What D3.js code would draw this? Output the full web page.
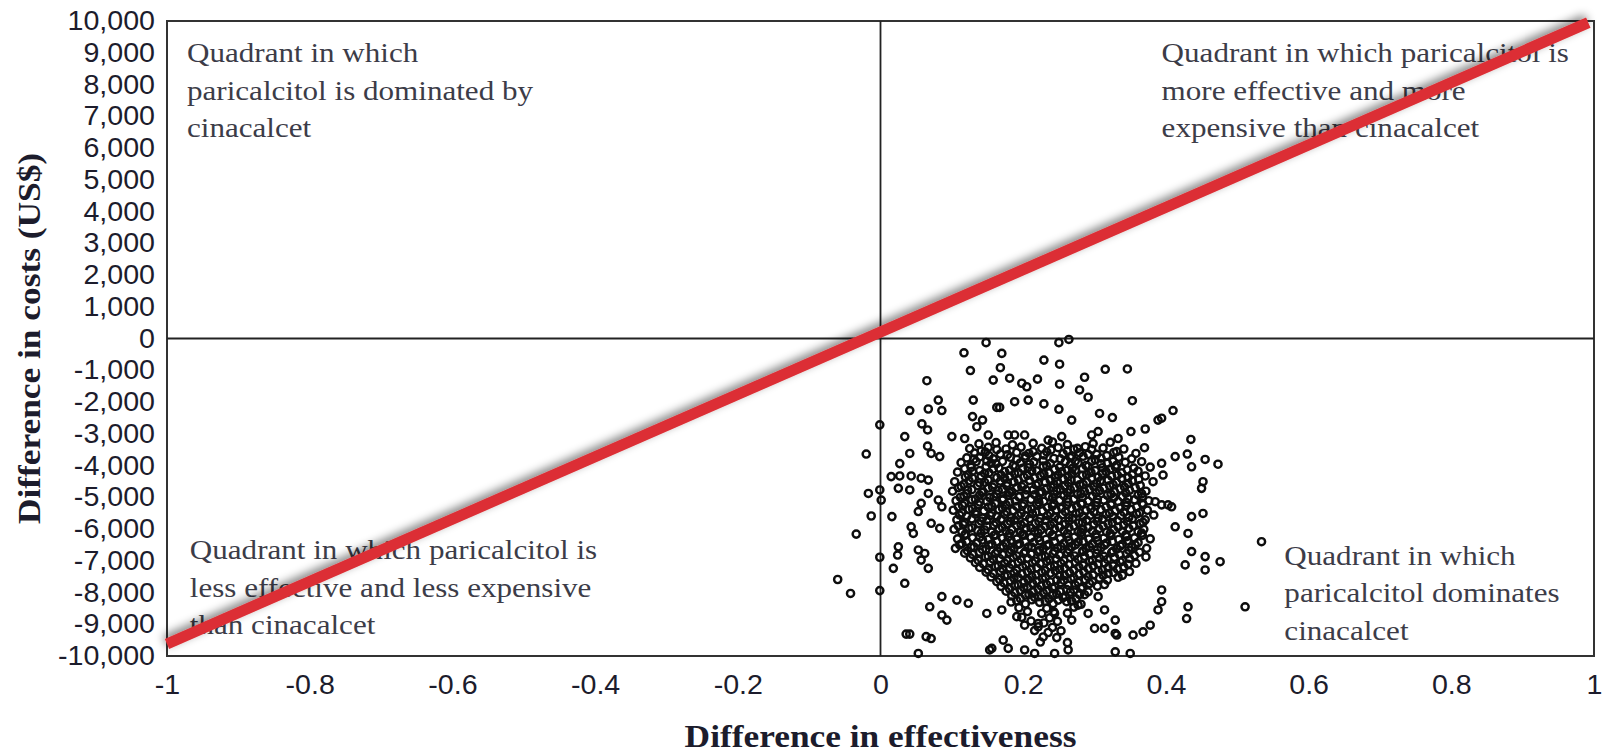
<!DOCTYPE html>
<html>
<head>
<meta charset="utf-8">
<script src="https://cdn.jsdelivr.net/npm/d3@7"></script>
<style>
  html, body { margin: 0; padding: 0; background: #fff; }
  svg { display: block; }
</style>
</head>
<body>
<svg id="chart" width="1608" height="753"></svg>
<script>
// Axis ticks
const xTicks = [-1, -0.8, -0.6, -0.4, -0.2, 0, 0.2, 0.4, 0.6, 0.8, 1];
const xTickLabels = ["-1", "-0.8", "-0.6", "-0.4", "-0.2", "0", "0.2", "0.4", "0.6", "0.8", "1"];
const yTicks = [10000, 9000, 8000, 7000, 6000, 5000, 4000, 3000, 2000, 1000, 0,
  -1000, -2000, -3000, -4000, -5000, -6000, -7000, -8000, -9000, -10000];
const yTickLabels = ["10,000", "9,000", "8,000", "7,000", "6,000", "5,000", "4,000", "3,000", "2,000", "1,000", "0",
  "-1,000", "-2,000", "-3,000", "-4,000", "-5,000", "-6,000", "-7,000", "-8,000", "-9,000", "-10,000"];

// Quadrant captions (anchored at first baseline, in data units)
const quadrantLabels = [
  { x: -0.972, y: 8700, lines: ["Quadrant in which", "paricalcitol is dominated by", "cinacalcet"] },
  { x: 0.394, y: 8700, lines: ["Quadrant in which paricalcitol is", "more effective and more", "expensive than cinacalcet"] },
  { x: -0.968, y: -6950, lines: ["Quadrant in which paricalcitol is", "less effective and less expensive", "than cinacalcet"] },
  { x: 0.566, y: -7130, lines: ["Quadrant in which", "paricalcitol dominates", "cinacalcet"] }
];

// Reference line endpoints (effectiveness, cost)
const thresholdLine = [[-1, -9620], [0.992, 9950]];

// Bootstrap replicates: sparse outer points
const outerPairs = [
  [0.148,-130],[0.250,-130],[0.264,-30],[0.117,-450],[0.170,-470],[0.229,-680],[0.251,-810],
  [0.126,-1010],[0.168,-920],[0.315,-970],[0.346,-960],[0.065,-1330],[0.158,-1310],[0.220,-1280],
  [0.286,-1220],[0.181,-1250],[0.198,-1410],[0.205,-1520],[0.251,-1440],[0.279,-1620],[0.291,-1850],
  [0.130,-1940],[0.081,-1940],[0.188,-1990],[0.163,-2170],[0.167,-2170],[0.207,-1940],[0.229,-2060],
  [0.250,-2230],[0.353,-1960],[0.041,-2270],[0.067,-2220],[0.086,-2270],[0.307,-2360],[0.325,-2490],
  [0.410,-2270],[0.394,-2510],[0.389,-2570],[0.129,-2460],[0.143,-2570],[0.058,-2690],[0.066,-2880],
  [-0.001,-2720],[0.135,-2780],[0.268,-2570],[0.034,-3090],[0.100,-3090],[0.118,-3150],[0.151,-3040],
  [0.179,-3040],[0.188,-3040],[0.202,-3040],[0.235,-3200],[0.254,-3090],[0.296,-3040],[0.305,-2930],
  [0.333,-3150],[0.351,-2930],[0.371,-2850],[0.435,-3180],[-0.020,-3640],[0.041,-3620],[0.066,-3390],
  [0.071,-3620],[0.083,-3720],[0.027,-3940],[0.276,-3460],[0.370,-3440],[0.413,-3720],[0.430,-3640],
  [0.436,-4040],[0.455,-3810],[0.473,-3960],[0.394,-3930],[0.396,-4300],[0.452,-4510],[0.450,-4720],
  [-0.017,-4880],[-0.001,-4770],[0.001,-5090],[0.015,-4350],[0.027,-4330],[0.043,-4330],[0.057,-4400],
  [0.067,-4460],[0.025,-4720],[0.041,-4770],[-0.013,-5590],[0.016,-5610],[0.053,-5450],[0.057,-5190],
  [0.067,-4880],[0.081,-5090],[0.086,-5300],[0.071,-5820],[0.083,-5980],[0.043,-5930],[0.046,-6140],
  [-0.034,-6160],[0.025,-6560],[0.024,-6820],[-0.001,-6890],[0.018,-7240],[0.053,-6660],[0.062,-6770],
  [0.057,-6980],[0.034,-7710],[0.067,-7240],[-0.060,-7590],[-0.042,-8030],[-0.001,-7940],[0.069,-8450],
  [0.086,-8710],[0.093,-8870],[0.086,-8130],[0.107,-8240],[0.123,-8340],[0.149,-8660],[0.170,-8550],
  [0.036,-9310],[0.041,-9310],[0.064,-9390],[0.071,-9450],[0.053,-9920],[0.191,-8760],[0.202,-9030],
  [0.221,-8980],[0.244,-8660],[0.268,-8870],[0.277,-8400],[0.291,-8660],[0.305,-8130],[0.314,-8550],
  [0.329,-8870],[0.331,-9340],[0.354,-9340],[0.368,-9240],[0.378,-9030],[0.394,-7920],[0.394,-8290],
  [0.389,-8550],[0.431,-8450],[0.429,-8820],[0.455,-6870],[0.455,-7290],[0.436,-6710],[0.476,-7030],
  [0.427,-7130],[0.511,-8450],[0.534,-6400],[0.413,-5930],[0.431,-6140],[0.436,-5610],[0.452,-5510],
  [0.408,-5300],[0.385,-5140],[0.394,-5240],[0.403,-5240],[0.329,-9290],[0.350,-9920],[0.329,-9870],
  [0.300,-9130],[0.314,-9130],[0.263,-9810],[0.244,-9920],[0.216,-9920],[0.202,-9810],[0.179,-9760],
  [0.172,-9500],[0.156,-9760],[0.153,-9810]
];

// Bootstrap replicates: dense central cloud
const corePairs = [
  [0.138,-3320],[0.162,-3280],[0.185,-3350],[0.214,-3300],[0.241,-3260],[0.262,-3340],[0.298,-3310],[0.322,-3270],
  [0.125,-3470],[0.151,-3430],[0.176,-3480],[0.197,-3420],[0.226,-3460],[0.249,-3440],[0.271,-3490],[0.287,-3410],[0.312,-3450],[0.341,-3480],
  [0.132,-3610],[0.147,-3580],[0.168,-3640],[0.191,-3590],[0.208,-3620],[0.233,-3570],[0.256,-3630],[0.279,-3600],[0.303,-3650],[0.327,-3590],[0.358,-3620],
  [0.121,-3760],[0.139,-3730],[0.158,-3790],[0.182,-3740],[0.203,-3770],[0.219,-3720],[0.243,-3780],[0.266,-3750],[0.284,-3710],[0.309,-3770],[0.334,-3740],[0.352,-3790],
  [0.113,-3910],[0.134,-3880],[0.155,-3930],[0.171,-3870],[0.196,-3920],[0.215,-3890],[0.238,-3940],[0.259,-3880],[0.277,-3920],[0.296,-3870],[0.318,-3930],[0.343,-3900],[0.366,-3880],
  [0.127,-4060],[0.148,-4030],[0.166,-4080],[0.189,-4040],[0.207,-4070],[0.228,-4020],[0.251,-4060],[0.269,-4090],[0.291,-4030],[0.311,-4070],[0.329,-4040],[0.355,-4080],[0.378,-4050],
  [0.108,-4210],[0.129,-4180],[0.152,-4230],[0.174,-4190],[0.193,-4220],[0.212,-4170],[0.236,-4230],[0.254,-4200],[0.273,-4160],[0.295,-4220],[0.316,-4190],[0.338,-4230],[0.361,-4180],
  [0.119,-4360],[0.141,-4330],[0.163,-4380],[0.181,-4340],[0.201,-4370],[0.224,-4320],[0.245,-4380],[0.263,-4350],[0.283,-4310],[0.305,-4370],[0.324,-4340],[0.347,-4380],[0.371,-4330],
  [0.104,-4510],[0.124,-4480],[0.146,-4530],[0.168,-4490],[0.187,-4520],[0.209,-4470],[0.231,-4530],[0.248,-4500],[0.267,-4460],[0.289,-4520],[0.308,-4490],[0.331,-4530],[0.353,-4480],[0.382,-4510],
  [0.113,-4660],[0.136,-4630],[0.157,-4680],[0.177,-4640],[0.198,-4670],[0.218,-4620],[0.239,-4680],[0.258,-4650],[0.279,-4610],[0.299,-4670],[0.321,-4640],[0.342,-4680],[0.364,-4630],
  [0.101,-4810],[0.122,-4780],[0.144,-4830],[0.165,-4790],[0.184,-4820],[0.204,-4770],[0.226,-4830],[0.247,-4800],[0.266,-4760],[0.286,-4820],[0.307,-4790],[0.328,-4830],[0.349,-4780],[0.372,-4810],
  [0.117,-4960],[0.139,-4930],[0.159,-4980],[0.179,-4940],[0.195,-4970],[0.216,-4920],[0.236,-4980],[0.257,-4950],[0.276,-4910],[0.297,-4970],[0.318,-4940],[0.339,-4980],[0.361,-4930],
  [0.106,-5110],[0.128,-5080],[0.149,-5130],[0.171,-5090],[0.189,-5120],[0.211,-5070],[0.229,-5130],[0.251,-5100],[0.271,-5060],[0.291,-5120],[0.313,-5090],[0.333,-5130],[0.356,-5080],[0.376,-5110],
  [0.115,-5260],[0.137,-5230],[0.156,-5280],[0.176,-5240],[0.199,-5270],[0.219,-5220],[0.241,-5280],[0.261,-5250],[0.281,-5210],[0.302,-5270],[0.323,-5240],[0.344,-5280],[0.368,-5230],
  [0.102,-5410],[0.124,-5380],[0.145,-5430],[0.166,-5390],[0.186,-5420],[0.206,-5370],[0.227,-5430],[0.246,-5400],[0.268,-5360],[0.288,-5420],[0.309,-5390],[0.329,-5430],[0.351,-5380],[0.374,-5410],
  [0.111,-5560],[0.133,-5530],[0.154,-5580],[0.174,-5540],[0.193,-5570],[0.213,-5520],[0.234,-5580],[0.255,-5550],[0.274,-5510],[0.294,-5570],[0.316,-5540],[0.337,-5580],[0.359,-5530],[0.383,-5560],
  [0.107,-5710],[0.128,-5680],[0.149,-5730],[0.169,-5690],[0.188,-5720],[0.209,-5670],[0.231,-5730],[0.249,-5700],[0.269,-5660],[0.289,-5720],[0.311,-5690],[0.332,-5730],[0.353,-5680],[0.371,-5710],
  [0.116,-5860],[0.138,-5830],[0.159,-5880],[0.178,-5840],[0.197,-5870],[0.217,-5820],[0.238,-5880],[0.259,-5850],[0.278,-5810],[0.299,-5870],[0.319,-5840],[0.341,-5880],[0.364,-5830],
  [0.103,-6010],[0.124,-5980],[0.146,-6030],[0.166,-5990],[0.184,-6020],[0.204,-5970],[0.225,-6030],[0.244,-6000],[0.264,-5960],[0.284,-6020],[0.306,-5990],[0.327,-6030],[0.348,-5980],[0.369,-6010],
  [0.119,-6160],[0.141,-6130],[0.161,-6180],[0.181,-6140],[0.199,-6170],[0.221,-6120],[0.241,-6180],[0.262,-6150],[0.281,-6110],[0.302,-6170],[0.322,-6140],[0.344,-6180],[0.366,-6130],
  [0.108,-6310],[0.129,-6280],[0.151,-6330],[0.171,-6290],[0.191,-6320],[0.211,-6270],[0.232,-6330],[0.252,-6300],[0.272,-6260],[0.292,-6320],[0.313,-6290],[0.334,-6330],[0.356,-6280],[0.378,-6310],
  [0.114,-6460],[0.135,-6430],[0.156,-6480],[0.176,-6440],[0.195,-6470],[0.215,-6420],[0.236,-6480],[0.257,-6450],[0.277,-6410],[0.297,-6470],[0.317,-6440],[0.339,-6480],[0.361,-6430],
  [0.105,-6610],[0.127,-6580],[0.148,-6630],[0.168,-6590],[0.187,-6620],[0.207,-6570],[0.228,-6630],[0.248,-6600],[0.268,-6560],[0.288,-6620],[0.309,-6590],[0.331,-6630],[0.352,-6580],[0.373,-6610],
  [0.118,-6760],[0.139,-6730],[0.161,-6780],[0.181,-6740],[0.201,-6770],[0.221,-6720],[0.242,-6780],[0.262,-6750],[0.283,-6710],[0.303,-6770],[0.324,-6740],[0.345,-6780],[0.363,-6730],
  [0.126,-6910],[0.147,-6880],[0.167,-6930],[0.186,-6890],[0.206,-6920],[0.226,-6870],[0.246,-6930],[0.266,-6900],[0.286,-6860],[0.307,-6920],[0.328,-6890],[0.349,-6930],[0.372,-6880],
  [0.133,-7060],[0.154,-7030],[0.174,-7080],[0.193,-7040],[0.213,-7070],[0.233,-7020],[0.253,-7080],[0.273,-7050],[0.293,-7010],[0.314,-7070],[0.336,-7040],[0.358,-7080],
  [0.139,-7210],[0.161,-7180],[0.181,-7230],[0.199,-7190],[0.219,-7220],[0.238,-7170],[0.258,-7230],[0.278,-7200],[0.298,-7160],[0.319,-7220],[0.341,-7190],
  [0.148,-7360],[0.168,-7330],[0.187,-7380],[0.206,-7340],[0.226,-7370],[0.245,-7320],[0.265,-7380],[0.285,-7350],[0.305,-7310],[0.327,-7370],[0.349,-7340],
  [0.155,-7510],[0.174,-7480],[0.193,-7530],[0.212,-7490],[0.231,-7520],[0.251,-7470],[0.271,-7530],[0.291,-7500],[0.312,-7460],[0.333,-7520],
  [0.163,-7660],[0.182,-7630],[0.201,-7680],[0.219,-7640],[0.238,-7670],[0.257,-7620],[0.277,-7680],[0.297,-7650],[0.318,-7610],
  [0.169,-7810],[0.188,-7780],[0.206,-7830],[0.225,-7790],[0.244,-7820],[0.263,-7770],[0.283,-7830],[0.304,-7800],
  [0.176,-7960],[0.196,-7930],[0.214,-7980],[0.233,-7940],[0.252,-7970],[0.271,-7920],[0.291,-7980],
  [0.184,-8110],[0.203,-8080],[0.222,-8130],[0.241,-8090],[0.259,-8120],[0.279,-8070],
  [0.191,-8260],[0.212,-8230],[0.231,-8280],[0.249,-8240],[0.268,-8270]
];

// Bootstrap replicates: overlapping points within the cloud
const overlapPairs = [
  [0.141,-3550],[0.163,-3500],[0.214,-3560],[0.239,-3510],[0.262,-3540],[0.296,-3490],[0.331,-3560],
  [0.131,-3800],[0.149,-3860],[0.191,-3810],[0.228,-3850],[0.252,-3790],[0.273,-3860],[0.301,-3820],[0.326,-3870],
  [0.118,-4100],[0.139,-4160],[0.158,-4110],[0.181,-4150],[0.199,-4090],[0.219,-4170],[0.244,-4120],[0.262,-4150],[0.283,-4100],[0.301,-4160],[0.322,-4110],[0.346,-4140],
  [0.129,-4400],[0.151,-4460],[0.174,-4410],[0.193,-4450],[0.216,-4390],[0.238,-4470],[0.256,-4420],[0.276,-4450],[0.296,-4400],[0.319,-4460],[0.338,-4410],[0.362,-4440],
  [0.109,-4700],[0.128,-4760],[0.151,-4710],[0.171,-4750],[0.191,-4690],[0.214,-4770],[0.233,-4720],[0.252,-4750],[0.272,-4700],[0.293,-4760],[0.313,-4710],[0.336,-4740],[0.357,-4700],
  [0.112,-5000],[0.133,-5060],[0.153,-5010],[0.172,-5050],[0.194,-4990],[0.221,-5070],[0.241,-5020],[0.262,-5050],[0.283,-5000],[0.304,-5060],[0.327,-5010],[0.347,-5040],[0.367,-5000],
  [0.109,-5300],[0.129,-5360],[0.151,-5310],[0.171,-5350],[0.191,-5290],[0.212,-5370],[0.234,-5320],[0.254,-5350],[0.275,-5300],[0.295,-5360],[0.316,-5310],[0.336,-5340],[0.359,-5300],
  [0.121,-5600],[0.143,-5660],[0.163,-5610],[0.183,-5650],[0.203,-5590],[0.224,-5670],[0.244,-5620],[0.264,-5650],[0.284,-5600],[0.305,-5660],[0.326,-5610],[0.348,-5640],
  [0.109,-5900],[0.128,-5960],[0.149,-5910],[0.171,-5950],[0.191,-5890],[0.211,-5970],[0.231,-5920],[0.251,-5950],[0.271,-5900],[0.291,-5960],[0.312,-5910],[0.333,-5940],[0.354,-5900],
  [0.118,-6200],[0.139,-6260],[0.159,-6210],[0.179,-6250],[0.201,-6190],[0.221,-6270],[0.242,-6220],[0.262,-6250],[0.282,-6200],[0.303,-6260],[0.323,-6210],[0.345,-6240],[0.367,-6200],
  [0.111,-6500],[0.131,-6560],[0.152,-6510],[0.172,-6550],[0.192,-6490],[0.212,-6570],[0.233,-6520],[0.253,-6550],[0.273,-6500],[0.293,-6560],[0.314,-6510],[0.336,-6540],[0.357,-6500],
  [0.129,-6800],[0.151,-6860],[0.171,-6810],[0.191,-6850],[0.211,-6790],[0.231,-6870],[0.251,-6820],[0.272,-6850],[0.293,-6800],[0.313,-6860],[0.335,-6810],[0.356,-6840],
  [0.144,-7100],[0.165,-7160],[0.184,-7110],[0.204,-7150],[0.224,-7090],[0.244,-7170],[0.264,-7120],[0.284,-7150],[0.305,-7100],[0.326,-7160],[0.347,-7110],
  [0.158,-7400],[0.178,-7460],[0.198,-7410],[0.218,-7450],[0.238,-7390],[0.258,-7470],[0.278,-7420],[0.298,-7450],[0.319,-7400],[0.339,-7460],
  [0.173,-7700],[0.193,-7760],[0.213,-7710],[0.233,-7750],[0.253,-7690],[0.273,-7770],[0.293,-7720],[0.314,-7750],
  [0.188,-8000],[0.208,-8060],[0.228,-8010],[0.247,-8050],[0.266,-7990],[0.286,-8070],
  [0.183,-8300],[0.203,-8360],[0.223,-8310],[0.242,-8350],[0.261,-8290],[0.281,-8370],
  [0.194,-8480],[0.233,-8500],[0.271,-8460],
  [0.206,-8600],[0.226,-8660],[0.243,-8610],[0.262,-8650],
  [0.198,-8780],[0.237,-8800],
  [0.211,-8900],[0.229,-8960],[0.248,-8910],
  [0.221,-9080],[0.241,-9100],
  [0.216,-9200],[0.235,-9260],[0.253,-9210],
  [0.228,-9400],[0.247,-9420],
  [0.224,-9560],[0.262,-9580]
];

// Bootstrap replicates: innermost, most crowded part of the cloud
const centrePairs = [
  [0.152,-3690],[0.178,-3660],[0.203,-3700],[0.229,-3670],[0.268,-3700],[0.291,-3650],[0.317,-3690],
  [0.127,-3990],[0.162,-3950],[0.186,-4000],[0.209,-3960],[0.233,-4010],[0.266,-3970],[0.288,-4000],[0.309,-3950],[0.331,-3990],
  [0.123,-4290],[0.146,-4250],[0.169,-4300],[0.188,-4260],[0.206,-4310],[0.229,-4270],[0.249,-4300],[0.268,-4250],[0.289,-4290],[0.311,-4260],[0.332,-4300],[0.353,-4270],
  [0.117,-4590],[0.139,-4550],[0.159,-4600],[0.178,-4560],[0.201,-4610],[0.221,-4570],[0.243,-4600],[0.263,-4550],[0.284,-4590],[0.303,-4560],[0.326,-4600],[0.347,-4570],
  [0.121,-4890],[0.142,-4850],[0.163,-4900],[0.181,-4860],[0.203,-4910],[0.223,-4870],[0.243,-4900],[0.262,-4850],[0.281,-4890],[0.302,-4860],[0.323,-4900],[0.344,-4870],[0.366,-4890],
  [0.118,-5190],[0.139,-5150],[0.161,-5200],[0.181,-5160],[0.201,-5210],[0.222,-5170],[0.243,-5200],[0.263,-5150],[0.283,-5190],[0.303,-5160],[0.324,-5200],[0.345,-5170],[0.367,-5190],
  [0.114,-5490],[0.134,-5450],[0.156,-5500],[0.177,-5460],[0.197,-5510],[0.218,-5470],[0.238,-5500],[0.259,-5450],[0.279,-5490],[0.299,-5460],[0.321,-5500],[0.341,-5470],[0.363,-5490],
  [0.118,-5790],[0.141,-5750],[0.162,-5800],[0.182,-5760],[0.202,-5810],[0.222,-5770],[0.243,-5800],[0.264,-5750],[0.283,-5790],[0.304,-5760],[0.325,-5800],[0.346,-5770],[0.368,-5790],
  [0.114,-6090],[0.136,-6050],[0.156,-6100],[0.176,-6060],[0.196,-6110],[0.216,-6070],[0.237,-6100],[0.257,-6050],[0.277,-6090],[0.297,-6060],[0.317,-6100],[0.339,-6070],[0.361,-6090],
  [0.121,-6390],[0.143,-6350],[0.163,-6400],[0.183,-6360],[0.203,-6410],[0.223,-6370],[0.244,-6400],[0.264,-6350],[0.284,-6390],[0.304,-6360],[0.325,-6400],[0.346,-6370],
  [0.122,-6690],[0.143,-6650],[0.164,-6700],[0.183,-6660],[0.203,-6710],[0.223,-6670],[0.244,-6700],[0.264,-6650],[0.284,-6690],[0.304,-6660],[0.326,-6700],[0.348,-6670],
  [0.137,-6990],[0.158,-6950],[0.178,-7000],[0.197,-6960],[0.217,-7010],[0.237,-6970],[0.257,-7000],[0.277,-6950],[0.297,-6990],[0.318,-6960],[0.339,-7000],
  [0.151,-7290],[0.171,-7250],[0.191,-7300],[0.211,-7260],[0.231,-7310],[0.251,-7270],[0.271,-7300],[0.291,-7250],[0.311,-7290],[0.332,-7260],
  [0.167,-7590],[0.187,-7550],[0.207,-7600],[0.227,-7560],[0.247,-7610],[0.267,-7570],[0.287,-7600],[0.307,-7550],
  [0.181,-7890],[0.201,-7850],[0.221,-7900],[0.241,-7860],[0.261,-7910],[0.281,-7870],
  [0.196,-8190],[0.216,-8150],[0.236,-8200],[0.256,-8160],[0.274,-8200]
];

const W = 1608, H = 753;
const margin = { top: 21, right: 14, bottom: 97, left: 167 };
const textStretch = 1.06;   // tick labels are drawn slightly wide
const captionStretch = 1.11;
const titleStretch = 1.14;

const svg = d3.select("#chart");

const x = d3.scaleLinear().domain([-1, 1]).range([margin.left, W - margin.right]);
const y = d3.scaleLinear().domain([-10000, 10000]).range([H - margin.bottom, margin.top]);

const defs = svg.append("defs");
// Soft shadow for the threshold line
const shadow = defs.append("filter").attr("id", "lineShadow")
  .attr("x", "-10%").attr("y", "-20%").attr("width", "120%").attr("height", "140%");
shadow.append("feGaussianBlur").attr("in", "SourceAlpha").attr("stdDeviation", 5).attr("result", "blur");
shadow.append("feOffset").attr("in", "blur").attr("dx", -2).attr("dy", -3).attr("result", "off");
shadow.append("feComponentTransfer").attr("in", "off").attr("result", "faded")
  .append("feFuncA").attr("type", "linear").attr("slope", 0.5);
const merge = shadow.append("feMerge");
merge.append("feMergeNode").attr("in", "faded");
merge.append("feMergeNode").attr("in", "SourceGraphic");

const soft = defs.append("filter").attr("id", "soft");
soft.append("feGaussianBlur").attr("stdDeviation", 0.35);

// Plot frame
svg.append("rect")
  .attr("x", x(-1)).attr("y", y(10000))
  .attr("width", x(1) - x(-1)).attr("height", y(-10000) - y(10000))
  .attr("fill", "none").attr("stroke", "#333").attr("stroke-width", 2);

// Zero lines
svg.append("line")
  .attr("x1", x(0)).attr("x2", x(0)).attr("y1", y(10000)).attr("y2", y(-10000))
  .attr("stroke", "#222").attr("stroke-width", 1.8);
svg.append("line")
  .attr("x1", x(-1)).attr("x2", x(1)).attr("y1", y(0)).attr("y2", y(0))
  .attr("stroke", "#222").attr("stroke-width", 1.8);

// Axes
const tickFont = "'Liberation Sans', Arial, sans-serif";
const yAxis = d3.axisLeft(y).tickValues(yTicks).tickSize(0).tickPadding(12)
  .tickFormat((d, i) => yTickLabels[i]);
const gy = svg.append("g").attr("transform", `translate(${x(-1)},0)`).call(yAxis);
gy.select(".domain").remove();
gy.selectAll("text")
  .attr("font-family", tickFont).attr("font-size", 27).attr("fill", "#1c1c2c")
  .attr("x", -12 / textStretch)
  .attr("transform", `scale(${textStretch},1)`);

const xAxis = d3.axisBottom(x).tickValues(xTicks).tickSize(0).tickPadding(19)
  .tickFormat((d, i) => xTickLabels[i]);
const gx = svg.append("g").attr("transform", `translate(0,${y(-10000)})`).call(xAxis);
gx.select(".domain").remove();
gx.selectAll("text")
  .attr("font-family", tickFont).attr("font-size", 27).attr("fill", "#1c1c2c")
  .attr("transform", `scale(${textStretch},1)`);

// Axis titles
const titleFont = "'Liberation Serif', 'Times New Roman', serif";
svg.append("text")
  .attr("transform", `translate(${x(0)},747) scale(${titleStretch},1)`)
  .attr("text-anchor", "middle")
  .attr("font-family", titleFont)
  .attr("font-weight", "bold").attr("font-size", 31).attr("fill", "#1c1c2c")
  .text("Difference in effectiveness");

svg.append("text")
  .attr("transform", `translate(40,${y(0)}) rotate(-90) scale(${titleStretch},1)`)
  .attr("text-anchor", "middle")
  .attr("font-family", titleFont)
  .attr("font-weight", "bold").attr("font-size", 31).attr("fill", "#1c1c2c")
  .text("Difference in costs (US$)");

// Quadrant captions
const qg = svg.append("g")
  .attr("font-family", titleFont)
  .attr("font-size", 28).attr("fill", "#3c3c48");
quadrantLabels.forEach(q => {
  const t = qg.append("text")
    .attr("transform", `translate(${x(q.x)},${y(q.y)}) scale(${captionStretch},1)`);
  q.lines.forEach((ln, i) => {
    t.append("tspan").attr("x", 0).attr("dy", i === 0 ? 0 : 37.5).text(ln);
  });
});

// Scatter of replicates
const pts = outerPairs.concat(corePairs, overlapPairs, centrePairs);
svg.append("g").attr("filter", "url(#soft)")
  .selectAll("circle").data(pts).join("circle")
  .attr("cx", d => x(d[0])).attr("cy", d => y(d[1]))
  .attr("r", 3.6)
  .attr("fill", "none").attr("stroke", "#0a0a0a").attr("stroke-width", 2.4);

// Threshold line
svg.append("line")
  .attr("x1", x(thresholdLine[0][0])).attr("y1", y(thresholdLine[0][1]))
  .attr("x2", x(thresholdLine[1][0])).attr("y2", y(thresholdLine[1][1]))
  .attr("stroke", "#dc2f35").attr("stroke-width", 11)
  .attr("filter", "url(#lineShadow)");
</script>
</body>
</html>
